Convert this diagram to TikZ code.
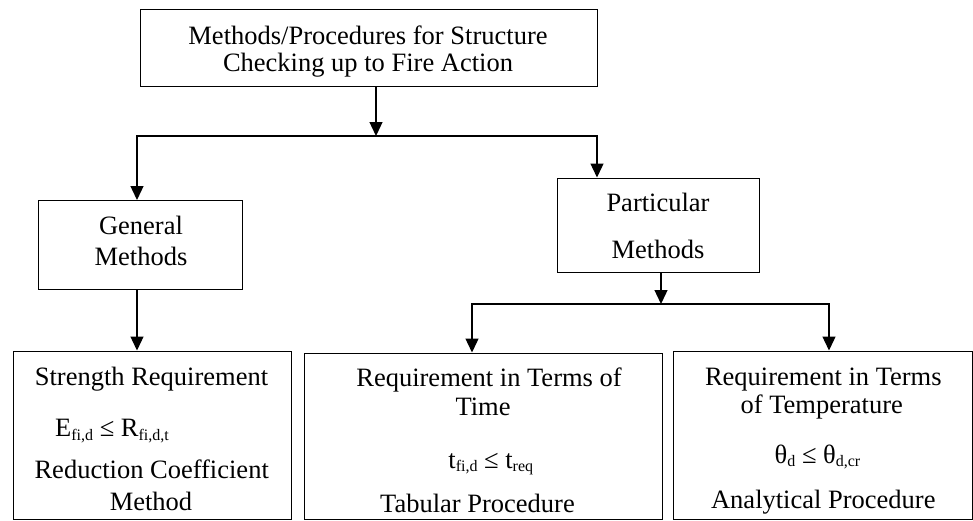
\documentclass[tikz,border=0pt]{standalone}
\usepackage{fontspec}
\setmainfont{Liberation Serif}
\usetikzlibrary{arrows.meta}
\newcommand{\mysub}[1]{\raisebox{-3.5pt}{\fontsize{16}{16}\selectfont #1}}
\begin{document}
\begin{tikzpicture}[x=1pt,y=-1pt,
  boxst/.style={draw, line width=1.4pt, inner sep=0pt, anchor=north west},
  txt/.style={anchor=base, inner sep=0pt, font=\fontsize{26.5}{30}\selectfont},
  conn/.style={line width=1.3pt, line cap=rect},
  arr/.style={line width=1.3pt, -{Triangle[length=14pt,width=13pt]}}]
\useasboundingbox (0,0) rectangle (973,520);
% boxes
\node[boxst, minimum width=457pt, minimum height=77pt] (top) at (140,8.5) {};
\node[boxst, minimum width=204pt, minimum height=88.5pt] (gen) at (38,200) {};
\node[boxst, minimum width=201.5pt, minimum height=94pt] (par) at (557,177.5) {};
\node[boxst, minimum width=278.5pt, minimum height=168pt] (b1) at (12.5,350.5) {};
\node[boxst, minimum width=357.5pt, minimum height=166pt] (b2) at (304,352.5) {};
\node[boxst, minimum width=299pt, minimum height=168pt] (b3) at (672.5,350.5) {};
% texts
\node[txt] (t1) at (368,44.3) {Methods/Procedures for Structure};
\node[txt] (t2) at (368,71.5) {Checking up to Fire Action};
\node[txt] (g1) at (141,234) {General};
\node[txt] (g2) at (141,265) {Methods};
\node[txt] (p1) at (658,211.7) {Particular};
\node[txt] (p2) at (658,258.3) {Methods};
\node[txt] (s1) at (151.5,385) {Strength Requirement};
\node[txt, anchor=base west] (s2) at (55,436.7) {E\mysub{fi,d} ≤ R\mysub{fi,d,t}};
\node[txt] (s3) at (151.7,478) {Reduction Coefficient};
\node[txt] (s4) at (151,510) {Method};
\node[txt] (r1) at (489,386.7) {Requirement in Terms of};
\node[txt] (r2) at (483,415) {Time};
\node[txt] (r3) at (490.8,468.3) {t\mysub{fi,d} ≤ t\mysub{req}};
\node[txt] (r4) at (477.5,512.5) {Tabular Procedure};
\node[txt] (q1) at (823.3,385) {Requirement in Terms};
\node[txt] (q2) at (821.7,413.3) {of Temperature};
\node[txt] (q3) at (817.5,463.3) {θ\mysub{d} ≤ θ\mysub{d,cr}};
\node[txt] (q4) at (823.3,508.3) {Analytical Procedure};
% connectors
\coordinate (j1) at (376,136);
\coordinate (j1L) at (137,136);
\coordinate (j1R) at (597,136);
\draw[arr] (top.south -| j1) -- (j1);
\draw[conn] (j1L) -- (j1R);
\draw[arr] (j1L) -- (j1L |- gen.north);
\draw[arr] (j1R) -- (j1R |- par.north);
\draw[arr] (j1L |- gen.south) -- (j1L |- b1.north);
\coordinate (j2) at (661,304);
\coordinate (j2L) at (472,304);
\coordinate (j2R) at (829,304);
\draw[arr] (j2 |- par.south) -- (j2);
\draw[conn] (j2L) -- (j2R);
\draw[arr] (j2L) -- (j2L |- b2.north);
\draw[arr] (j2R) -- (j2R |- b3.north);
\end{tikzpicture}
\end{document}
